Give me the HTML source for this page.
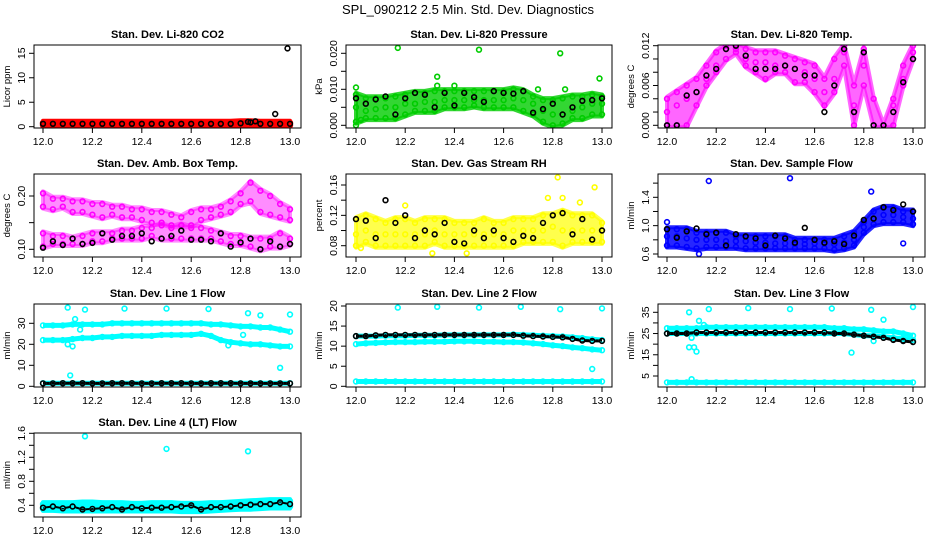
<!DOCTYPE html>
<html><head><meta charset="utf-8"><style>
html,body{margin:0;padding:0;background:#fff}
svg{display:block;font-family:"Liberation Sans",sans-serif}
</style></head><body>
<svg id="chart" width="936" height="540" viewBox="0 0 936 540" xmlns="http://www.w3.org/2000/svg">
<text x="468" y="14" text-anchor="middle" font-size="13">SPL_090212  2.5 Min. Std. Dev. Diagnostics</text>
</svg>
<script>
// shared time grid categories (hours), 26 points
const timeGrid = [12.00,12.04,12.08,12.12,12.16,12.20,12.24,12.28,12.32,12.36,12.40,12.44,12.48,12.52,12.56,12.60,12.64,12.68,12.72,12.76,12.80,12.84,12.88,12.92,12.96,13.00];
const xTickLabels = ["12.0","12.2","12.4","12.6","12.8","13.0"];

// P1 CO2
const co2RedHi = [0.8,0.8,0.8,0.8,0.8,0.8,0.8,0.8,0.8,0.8,0.8,0.8,0.8,0.8,0.8,0.8,0.8,0.8,0.8,0.8,0.9,0.9,0.8,0.8,0.8,0.8];
const co2RedLo = [0.3,0.3,0.3,0.3,0.3,0.3,0.3,0.3,0.3,0.3,0.3,0.3,0.3,0.3,0.3,0.3,0.3,0.3,0.3,0.3,0.3,0.3,0.3,0.3,0.3,0.3];
const co2Black = [0.6,0.6,0.6,0.6,0.6,0.6,0.6,0.6,0.6,0.6,0.6,0.6,0.6,0.6,0.6,0.6,0.6,0.6,0.6,0.6,0.7,0.9,0.6,0.6,0.6,0.6];
const co2OutX = [12.94,12.99,12.83,12.86];
const co2OutY = [2.6,16,1.0,1.1];
const co2Ticks = [0,5,10,15];

// P2 pressure
const presHi = [.0085,.0075,.0075,.0075,.008,.0085,.009,.009,.0095,.0095,.0095,.0095,.0095,.0095,.0095,.0095,.010,.0095,.008,.007,.007,.0075,.008,.008,.0085,.008];
const presMid = [.005,.004,.0045,.005,.005,.006,.006,.0065,.0065,.007,.007,.007,.007,.007,.007,.007,.0075,.007,.006,.004,.003,.003,.004,.005,.006,.006];
const presLo = [.001,.002,.002,.002,.002,.003,.004,.004,.004,.005,.005,.005,.0055,.005,.005,.005,.005,.004,.003,.001,.000,.0005,.002,.002,.003,.003];
const presOutX = [12.00,12.17,12.33,12.33,12.40,12.50,12.83,12.85,12.74,12.99,12.00,12.02];
const presOutY = [.0105,.0215,.0135,.011,.011,.021,.020,.010,.010,.013,.000,.0015];
const presBlack = [.0075,.006,.0072,.008,.003,.0075,.009,.0085,.005,.009,.0055,.009,.0078,.0065,.0095,.009,.0088,.0095,.0035,.0045,.006,.003,.005,.0068,.007,.0075];
const presTicks = [0,.005,.010,.015,.020];

// P3 temp
const tempHi = [.004,.005,.006,.007,.009,.011,.012,.012,.0115,.011,.011,.011,.0105,.010,.0095,.009,.007,.010,.012,.006,.0115,.004,.000,.004,.009,.012];
const tempMid = [.002,.003,.004,.005,.007,.009,.0115,.0115,.010,.0095,.0095,.009,.009,.0085,.008,.007,.005,.007,.011,.003,.009,.000,.000,.003,.007,.011];
const tempLo = [.000,.000,.000,.003,.006,.008,.010,.011,.009,.008,.007,.008,.008,.0065,.0065,.005,.003,.005,.009,.000,.006,.000,.000,.000,.006,.010];
const tempBlack = [.000,.000,.0045,.005,.0075,.0085,.0115,.012,.0105,.0085,.0085,.0085,.009,.0085,.0075,.0075,.002,.006,.0115,.002,.011,.000,.000,.002,.0065,.010];
const tempTicks = [0,.002,.004,.006,.008,.010,.012];

// P4 amb box temp
const ambHi = [.205,.195,.195,.19,.19,.185,.185,.18,.18,.175,.175,.17,.17,.165,.16,.17,.175,.175,.18,.19,.205,.225,.21,.2,.185,.175];
const ambMid = [.18,.175,.18,.17,.17,.165,.16,.165,.16,.16,.155,.15,.15,.145,.145,.145,.155,.16,.165,.17,.185,.19,.17,.165,.16,.155];
const ambLo2 = [.13,.125,.125,.12,.125,.13,.13,.13,.135,.135,.14,.14,.145,.14,.145,.14,.14,.135,.13,.125,.125,.12,.12,.12,.13,.12];
const ambLo = [.105,.11,.11,.11,.11,.115,.115,.12,.12,.12,.12,.125,.12,.12,.12,.12,.12,.12,.115,.11,.11,.105,.10,.105,.105,.11];
const ambBlack = [.103,.115,.108,.12,.11,.112,.13,.118,.125,.125,.13,.115,.12,.125,.135,.118,.118,.115,.13,.105,.113,.12,.10,.115,.105,.11];
const ambTicks = [.10,.15,.20];

// P5 RH
const rhHi = [.115,.12,.115,.11,.115,.115,.11,.115,.115,.115,.11,.11,.11,.115,.11,.11,.115,.115,.115,.12,.12,.125,.12,.12,.12,.11];
const rhMid = [.095,.1,.095,.095,.095,.095,.095,.095,.1,.095,.095,.095,.095,.095,.095,.095,.1,.1,.1,.1,.105,.1,.1,.1,.1,.1];
const rhLo = [.08,.085,.08,.08,.08,.08,.08,.08,.085,.08,.08,.08,.08,.08,.08,.08,.08,.085,.085,.085,.085,.08,.085,.085,.085,.085];
const rhOutX = [12.82,12.97,12.31,12.02,12.84,12.78,12.20,12.91,12.45];
const rhOutY = [.17,.157,.07,.077,.143,.143,.133,.137,.07];
const rhBlack = [.115,.113,.09,.14,.11,.12,.09,.1,.095,.11,.085,.083,.1,.09,.1,.09,.085,.093,.09,.11,.12,.123,.095,.115,.088,.1];
const rhTicks = [.08,.10,.12,.14,.16];

// P6 sample flow
const sfHi = [.95,.95,.95,.9,.9,.9,.9,.85,.85,.85,.85,.85,.85,.8,.8,.8,.8,.8,.85,.9,1.05,1.2,1.25,1.25,1.2,1.2];
const sfMid = [.85,.85,.82,.8,.8,.8,.78,.78,.78,.76,.76,.75,.75,.74,.74,.75,.75,.74,.76,.8,.98,1.1,1.15,1.15,1.12,1.1];
const sfLo = [.72,.72,.7,.68,.7,.7,.7,.7,.68,.68,.68,.68,.68,.68,.68,.68,.68,.66,.68,.72,.9,1.02,1.05,1.05,1.05,1.02];
const sfOutX = [12.17,12.50,12.83,12.96,12.13,12.00];
const sfOutY = [1.63,1.67,1.48,.75,.6,1.05];
const sfBlack = [.95,.83,.92,.96,.88,.9,.72,.88,.85,.82,.72,.86,.82,.76,.97,.8,.76,.78,.74,.86,1.08,1.1,1.26,1.22,1.3,1.2];
const sfTicks = [.6,.8,1.0,1.2,1.4,1.6];

// P7 line 1
const l1Hi = [29,29,29,29.5,29.5,29.5,29.5,30,30,30,30,30,30,30,30,30,30,29.5,29.5,29,28.5,28.5,28,28,27,26];
const l1Lo = [22,22,22,22.5,23,23,23.5,23.5,24,24,24,24,24.5,24.5,24.5,24.5,25,24,22,21,20.5,20,20,19.5,19,19];
const l1Bot = [1.5,1.5,1.5,1.5,1.5,1.5,1.5,1.5,1.5,1.5,1.5,1.5,1.5,1.5,1.5,1.5,1.5,1.5,1.5,1.5,1.5,1.5,1.5,1.5,1.5,1.5];
const l1Black = [1.4,1.4,1.5,1.5,1.5,1.4,1.4,1.5,1.5,1.5,1.4,1.4,1.5,1.5,1.5,1.4,1.4,1.5,1.5,1.5,1.4,1.4,1.4,1.4,1.4,1.4];
const l1OutX = [12.10,12.17,12.33,12.50,12.67,12.83,12.88,13.00,12.11,12.96,12.13,12.15,12.81,12.75,12.12,12.10];
const l1OutY = [37.5,36.5,37,37,36.8,34.8,33.8,34.2,5.2,8.8,32,27,24.5,19.5,19,20];
const l1Ticks = [0,10,20,30];

// P8 line 2
const l2Top = [12.5,12.5,12.5,12.6,12.6,12.6,12.7,12.7,12.7,12.8,12.8,12.8,12.8,12.8,12.8,12.8,12.9,12.8,12.7,12.6,12.5,12.4,12.2,12,11.7,11.5];
const l2Mid = [10.5,10.7,10.8,10.9,11,11,11,11.1,11.1,11.1,11.2,11.2,11.2,11.1,11.1,11,11,10.9,10.7,10.5,10.2,10,9.7,9.5,9.2,9];
const l2Bot = [1.2,1.2,1.2,1.2,1.2,1.2,1.2,1.2,1.2,1.2,1.2,1.2,1.2,1.2,1.2,1.2,1.2,1.2,1.2,1.2,1.2,1.2,1.2,1.2,1.2,1.2];
const l2Black = [12.5,12.5,12.7,12.8,12.8,12.8,12.8,12.8,12.8,12.8,12.8,12.8,12.8,12.8,12.8,12.8,12.8,12.6,12.5,12.4,12.3,12.2,11.8,11.4,11.3,11.3];
const l2OutX = [12.17,12.33,12.50,12.67,12.83,13.00,12.96];
const l2OutY = [19.6,19.8,19.6,19.8,19.2,19.4,4.3];
const l2Ticks = [0,5,10,15,20];

// P9 line 3
const l3Top = [27.5,27.5,27.5,27.5,28,28,28,28,28,28,28,28,28,28,28,28,28,27.5,27.5,27,27,26.5,26,26,25,24];
const l3Mid = [25,25,25,25,25,25,25,25,25,25,25,25,25,25,25,25,25,25,25,24.5,24,24,23.5,23,22.5,22];
const l3Bot = [2,2,2,2,2,2,2,2,2,2,2,2,2,2,2,2,2,2,2,2,2,2,2,2,2,2];
const l3Black = [25,25,25,25.5,25.5,25.5,25.5,25.5,25.5,25.5,25.5,25.5,25.5,25.5,25.5,25.5,25.5,25,25,24.5,24,23.5,23,22,21.5,21];
const l3OutX = [12.09,12.17,12.33,12.50,12.67,12.83,12.88,13.00,12.09,12.11,12.12,12.13,12.15,12.75,12.10,12.84,12.10];
const l3OutY = [35,36.5,37,36.5,36.8,36.2,31.5,37.5,18.5,18.5,16.5,31,29,16,3.5,21.5,23];
const l3Ticks = [5,10,15,20,25,30,35];

// P10 line 4
const l4Hi = [.42,.42,.42,.42,.43,.43,.42,.42,.42,.41,.41,.42,.42,.42,.41,.41,.41,.42,.42,.43,.44,.45,.46,.47,.47,.47];
const l4Lo = [.34,.34,.33,.33,.33,.33,.33,.33,.33,.33,.33,.33,.33,.33,.32,.32,.32,.33,.34,.35,.36,.36,.37,.38,.38,.38];
const l4Black = [.36,.38,.35,.38,.33,.34,.35,.37,.33,.37,.35,.36,.36,.37,.38,.40,.33,.37,.37,.38,.40,.41,.42,.42,.45,.42];
const l4OutX = [12.17,12.50,12.83];
const l4OutY = [1.55,1.34,1.3];
const l4Ticks = [.4,.6,.8,1.0,1.2,1.4,1.6];

const NS = "http://www.w3.org/2000/svg";
const svg = document.getElementById('chart');
function mk(tag, attrs, parent){
  const e = document.createElementNS(NS, tag);
  for (const k in attrs) e.setAttribute(k, attrs[k]);
  (parent||svg).appendChild(e);
  return e;
}
const cols = [{bx0:34,bx1:301,px0:43,px1:290},{bx0:346,bx1:612,px0:356,px1:602},{bx0:658,bx1:925,px0:667,px1:913}];
const rows = [{by0:45,by1:128},{by0:174,by1:257},{by0:304,by1:387},{by0:433,by1:517}];

function panel(o){
  const c = cols[o.col], r = rows[o.row];
  const g = mk('g', {});
  
  
  const xS = v => c.px0 + (v - 12) * (c.px1 - c.px0);
  const yS = v => o.p1 + (v - o.v1) * (o.p2 - o.p1) / (o.v2 - o.v1);
  const t = mk('text', {x:(c.bx0+c.bx1)/2, y:r.by0-7, 'text-anchor':'middle', 'font-size':'11', 'font-weight':'bold'}, g);
  t.textContent = o.title;
  
  
  const clipId = 'clip' + o.col + o.row;
  const cp = mk('clipPath', {id:clipId}, g);
  mk('rect', {x:c.bx0, y:r.by0, width:c.bx1-c.bx0, height:r.by1-r.by0}, cp);
  const pts = mk('g', {'clip-path':'url(#'+clipId+')', fill:'none', 'stroke-width':'1.6'}, g);
  (o.bands||[]).forEach(b => {
    const up = b.hi.map((v,i) => xS(timeGrid[i]).toFixed(1)+','+(yS(v)-2).toFixed(1));
    const dn = b.lo.map((v,i) => xS(timeGrid[i]).toFixed(1)+','+(yS(v)+2).toFixed(1)).reverse();
    const p = mk('polygon', {points: up.concat(dn).join(' '), fill:b.color, 'fill-opacity':b.op||0.85, stroke:b.color, 'stroke-width':'4', 'stroke-opacity':b.op||0.85, 'stroke-linejoin':'round'}, pts);
    
    
  });
  (o.lines||[]).forEach(l => {
    const p = mk('polyline', {points: l.y.map((v,i) => xS(timeGrid[i]).toFixed(1)+','+yS(v).toFixed(1)).join(' '), fill:'none', stroke:l.color, 'stroke-width':l.w||5, 'stroke-linejoin':'round'}, pts);
    
    
  });
  o.series.forEach(s => {
    const xs = s.x || timeGrid;
    s.y.forEach((v, i) => {
      const ci = mk('circle', {cx:xS(xs[i]).toFixed(1), cy:yS(v).toFixed(1), r:'2.4', stroke:s.color}, pts);
      
      
    });
  });
  const box = mk('rect', {x:c.bx0, y:r.by0, width:c.bx1-c.bx0, height:r.by1-r.by0, fill:'none', stroke:'#000', 'stroke-width':'1'}, g);
  
  
  xTickLabels.forEach(l => {
    const x = xS(parseFloat(l));
    mk('line', {x1:x, x2:x, y1:r.by1, y2:r.by1+5, stroke:'#000'}, g);
    const tl = mk('text', {x:x, y:r.by1+17, 'text-anchor':'middle', 'font-size':'10.5'}, g);
    tl.textContent = l;
    
    
  });
  o.ticks.forEach((v, i) => {
    const y = yS(v);
    mk('line', {x1:c.bx0-5, x2:c.bx0, y1:y, y2:y, stroke:'#000'}, g);
    if (o.labelEvery && i % o.labelEvery !== 0) return;
    const tl = mk('text', {x:c.bx0-9, y:y, 'text-anchor':'middle', 'font-size':'10.5', transform:'rotate(-90 '+(c.bx0-9)+' '+y+')'}, g);
    tl.textContent = v.toFixed(o.dec);
    
    
  });
  const ym = (r.by0 + r.by1) / 2, ax = c.bx0 - 24;
  const yt = mk('text', {x:ax, y:ym, 'text-anchor':'middle', 'font-size':'9.5', transform:'rotate(-90 '+ax+' '+ym+')'}, g);
  yt.textContent = o.ylab;
  
  
}

const K = '#000', RED = '#ff0000', GRN = '#00cc00', MAG = '#ff00ff', YEL = '#ffff00', BLU = '#0000ff', CYA = '#00ffff';
panel({name:'panel-co2', col:0,row:0,title:'Stan. Dev. Li-820 CO2',ylab:'Licor ppm',v1:0,p1:126.7,v2:15,p2:53.3,ticks:co2Ticks,dec:0,
  bands:[{hi:co2RedHi,lo:co2RedLo,color:RED,op:1}],
  series:[{y:co2RedHi,color:RED},{y:co2RedLo,color:RED},{y:co2Black,color:K},{x:co2OutX,y:co2OutY,color:K}]});
panel({name:'panel-pressure', col:1,row:0,title:'Stan. Dev. Li-820 Pressure',ylab:'kPa',v1:0,p1:125.3,v2:.02,p2:53.3,ticks:presTicks,dec:3,labelEvery:2,
  bands:[{hi:presHi,lo:presLo,color:GRN,op:0.8}],
  series:[{y:presHi,color:GRN},{y:presMid,color:GRN},{y:presLo,color:GRN},{x:presOutX,y:presOutY,color:GRN},{y:presBlack,color:K}]});
panel({name:'panel-li820-temp', col:2,row:0,title:'Stan. Dev. Li-820 Temp.',ylab:'degrees C',v1:0,p1:125.3,v2:.012,p2:45.7,ticks:tempTicks,dec:3,labelEvery:3,
  bands:[{hi:tempHi,lo:tempLo,color:MAG,op:0.6}],
  series:[{y:tempHi,color:MAG},{y:tempMid,color:MAG},{y:tempLo,color:MAG},{y:tempBlack,color:K}]});
panel({name:'panel-amb-box-temp', col:0,row:1,title:'Stan. Dev. Amb. Box Temp.',ylab:'degrees C',v1:.10,p1:249.3,v2:.20,p2:196,ticks:ambTicks,dec:2,labelEvery:2,
  bands:[{hi:ambHi,lo:ambMid,color:MAG,op:0.45},{hi:ambLo2,lo:ambLo,color:MAG,op:0.45}],
  series:[{y:ambHi,color:MAG},{y:ambMid,color:MAG},{y:ambLo2,color:MAG},{y:ambLo,color:MAG},{y:ambBlack,color:K}]});
panel({name:'panel-gas-rh', col:1,row:1,title:'Stan. Dev. Gas Stream RH',ylab:'percent',v1:.08,p1:245.7,v2:.16,p2:185,ticks:rhTicks,dec:2,labelEvery:2,
  bands:[{hi:rhHi,lo:rhLo,color:YEL,op:0.7}],
  series:[{y:rhHi,color:YEL},{y:rhMid,color:YEL},{y:rhLo,color:YEL},{x:rhOutX,y:rhOutY,color:YEL},{y:rhBlack,color:K}]});
panel({name:'panel-sample-flow', col:2,row:1,title:'Stan. Dev. Sample Flow',ylab:'ml/min',v1:.6,p1:254,v2:1.4,p2:197.3,ticks:sfTicks,dec:1,labelEvery:2,
  bands:[{hi:sfHi,lo:sfLo,color:BLU,op:0.85}],
  series:[{y:sfHi,color:BLU},{y:sfMid,color:BLU},{y:sfLo,color:BLU},{x:sfOutX,y:sfOutY,color:BLU},{y:sfBlack,color:K}]});
panel({name:'panel-line1-flow', col:0,row:2,title:'Stan. Dev. Line 1 Flow',ylab:'ml/min',v1:0,p1:386.3,v2:30,p2:323.3,ticks:l1Ticks,dec:0,
  lines:[{y:l1Hi,color:CYA},{y:l1Lo,color:CYA},{y:l1Bot,color:CYA},{y:l1Black,color:K,w:3}],
  series:[{y:l1Hi,color:CYA},{y:l1Lo,color:CYA},{y:l1Bot,color:CYA},{x:l1OutX,y:l1OutY,color:CYA},{y:l1Black,color:K}]});
panel({name:'panel-line2-flow', col:1,row:2,title:'Stan. Dev. Line 2 Flow',ylab:'ml/min',v1:0,p1:386.3,v2:20,p2:306,ticks:l2Ticks,dec:0,
  lines:[{y:l2Top,color:CYA},{y:l2Mid,color:CYA},{y:l2Bot,color:CYA},{y:l2Black,color:K,w:3}],
  series:[{y:l2Top,color:CYA},{y:l2Mid,color:CYA},{y:l2Bot,color:CYA},{x:l2OutX,y:l2OutY,color:CYA},{y:l2Black,color:K}]});
panel({name:'panel-line3-flow', col:2,row:2,title:'Stan. Dev. Line 3 Flow',ylab:'ml/min',v1:5,p1:376,v2:35,p2:312.3,ticks:l3Ticks,dec:0,labelEvery:2,
  lines:[{y:l3Top,color:CYA},{y:l3Mid,color:CYA},{y:l3Bot,color:CYA},{y:l3Black,color:K,w:3}],
  series:[{y:l3Top,color:CYA},{y:l3Mid,color:CYA},{y:l3Bot,color:CYA},{x:l3OutX,y:l3OutY,color:CYA},{y:l3Black,color:K}]});
panel({name:'panel-line4-flow', col:0,row:3,title:'Stan. Dev. Line 4 (LT) Flow',ylab:'ml/min',v1:.4,p1:505.3,v2:1.6,p2:433.3,ticks:l4Ticks,dec:1,labelEvery:2,
  bands:[{hi:l4Hi,lo:l4Lo,color:CYA,op:1}],
  lines:[{y:l4Black,color:K,w:2}],
  series:[{y:l4Hi,color:CYA},{y:l4Lo,color:CYA},{x:l4OutX,y:l4OutY,color:CYA},{y:l4Black,color:K}]});
</script>
</body></html>
